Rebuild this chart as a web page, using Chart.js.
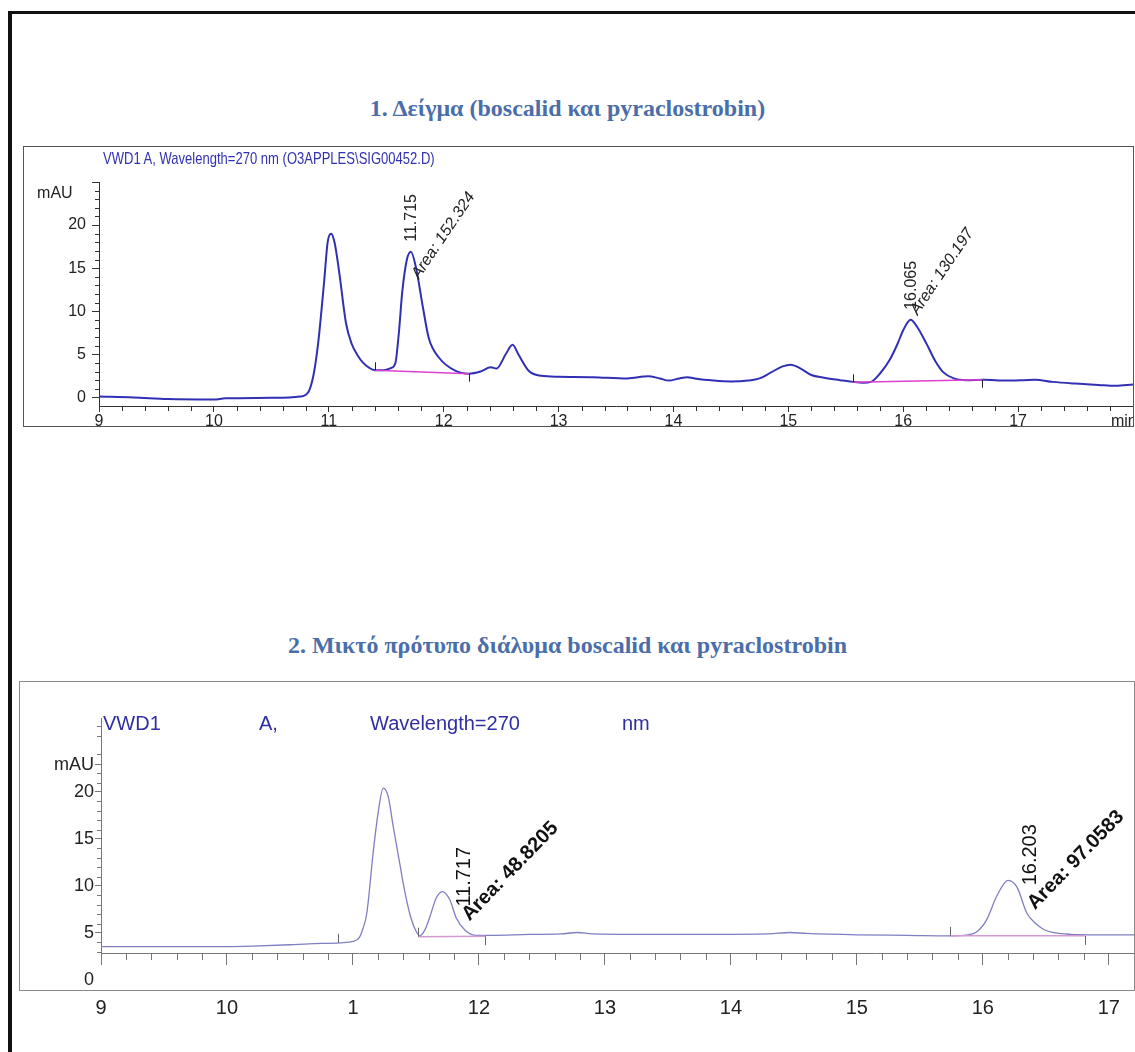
<!DOCTYPE html>
<html lang="el">
<head>
<meta charset="utf-8">
<title>Χρωματογραφήματα boscalid / pyraclostrobin</title>
<script src="https://cdn.jsdelivr.net/npm/chart.js@4.4.1/dist/chart.umd.min.js"></script>
<style>
html, body { margin: 0; padding: 0; background: #fff; }
body { position: relative; width: 1135px; height: 1052px; overflow: hidden; font-family: "Liberation Sans", Arial, sans-serif; }
#frame { position: absolute; left: 8px; top: 11px; width: 1200px; height: 1100px; border-top: 3px solid #111; border-left: 4px solid #111; }
.title { position: absolute; left: 0; width: 1135px; text-align: center; white-space: nowrap; font-family: "Liberation Serif", "Times New Roman", serif; font-weight: bold; font-size: 24px; color: #4b6ea9; line-height: 1; }
.box { position: absolute; box-sizing: border-box; }
#box1 { left: 23px; top: 146px; width: 1111px; height: 281px; border: 1px solid #555; }
#box2 { left: 19px; top: 681px; width: 1116px; height: 310px; border: 1px solid #8a8a8a; }
canvas { position: absolute; }
#c1 { left: 23px; top: 146px; }
#c2 { left: 19px; top: 681px; }
.hdr { position: absolute; white-space: nowrap; line-height: 1; }
#hdr1 { left: 103px; top: 150px; font-size: 17px; color: #3232b0; transform-origin: 0 0; }
.hdr2 { top: 713px; font-size: 20px; color: #2f2fa3; }
</style>
</head>
<body>
<div id="frame"></div>
<div class="title" id="t1" style="top:96px">1. Δείγμα (boscalid και pyraclostrobin)</div>
<div class="title" id="t2" style="top:633px">2. Μικτό πρότυπο διάλυμα boscalid και pyraclostrobin</div>
<div class="box" id="box1"></div>
<div class="box" id="box2"></div>
<canvas id="c1" width="1110" height="281"></canvas>
<canvas id="c2" width="1115" height="340"></canvas>
<div class="hdr" id="hdr1">VWD1 A, Wavelength=270 nm (O3APPLES\SIG00452.D)</div>
<div class="hdr hdr2" style="left:103px">VWD1</div>
<div class="hdr hdr2" style="left:259px">A,</div>
<div class="hdr hdr2" style="left:370px">Wavelength=270</div>
<div class="hdr hdr2" style="left:622px">nm</div>
<script>
// --- chromatogram 1: sample ---
const rt1 = [9.0, 9.3, 9.6, 10.0, 10.1, 10.5, 10.75, 10.8, 10.83, 10.87, 10.91, 10.96, 10.99, 11.02, 11.05, 11.09,
  11.15, 11.2, 11.25, 11.3, 11.35, 11.4, 11.47, 11.54, 11.58, 11.61, 11.64, 11.68, 11.715, 11.76, 11.82, 11.87, 11.96,
  12.1, 12.22, 12.32, 12.41, 12.46, 12.54, 12.6, 12.65, 12.74, 12.85, 13.0, 13.3, 13.6, 13.78, 13.88, 13.96,
  14.05, 14.12, 14.2, 14.35, 14.5, 14.65, 14.75, 14.85, 14.95, 15.02, 15.1, 15.2, 15.3, 15.45, 15.56, 15.65,
  15.72, 15.8, 15.88, 15.95, 16.0, 16.065, 16.12, 16.2, 16.28, 16.35, 16.44, 16.55, 16.7, 16.9, 17.05, 17.15,
  17.3, 17.5, 17.7, 17.85, 18.0];
const mau1 = [0.1, 0.0, -0.2, -0.25, -0.1, -0.05, 0.1, 0.3, 0.8, 2.8, 6.6, 13.5, 18.0, 19.0, 18.0, 14.6,
  8.6, 6.2, 4.9, 4.0, 3.45, 3.15, 3.15, 3.4, 4.0, 7.5, 12.3, 16.0, 16.9, 15.0, 10.4, 6.9, 4.6,
  3.1, 2.75, 3.0, 3.5, 3.35, 5.0, 6.1, 5.0, 3.1, 2.5, 2.4, 2.35, 2.2, 2.45, 2.2, 1.95,
  2.2, 2.35, 2.15, 1.95, 1.85, 1.95, 2.2, 2.9, 3.6, 3.8, 3.4, 2.6, 2.3, 2.0, 1.8, 1.7,
  1.8, 2.8, 4.3, 6.2, 7.8, 9.0, 8.2, 6.3, 4.2, 2.9, 2.2, 2.0, 2.05, 1.95, 2.0, 2.05,
  1.8, 1.6, 1.45, 1.35, 1.5];
const baseX1 = [[11.40, 12.22], [15.56, 16.69]];
const baseY1 = [[3.15, 2.75], [1.75, 2.05]];
const peakRt1 = [11.715, 16.065];
const peakArea1 = ['152.324', '130.197'];
const xTicks1 = [9, 10, 11, 12, 13, 14, 15, 16, 17, 17.92];
const xLabels1 = ['9', '10', '11', '12', '13', '14', '15', '16', '17', 'min'];
const yTicks1 = [0, 5, 10, 15, 20, 23.7, 25];
const yLabels1 = ['0', '5', '10', '15', '20', 'mAU   ', ''];

// --- chromatogram 2: mixed standard ---
const rt2 = [9.0, 9.5, 10.0, 10.2, 10.5, 10.65, 10.9, 11.0, 11.05, 11.08, 11.11, 11.16, 11.2, 11.24, 11.28, 11.32,
  11.37, 11.41, 11.45, 11.49, 11.53, 11.57, 11.61, 11.66, 11.71, 11.77, 11.82, 11.89, 11.98, 12.1, 12.4, 12.65,
  12.78, 12.9, 13.3, 13.8, 14.3, 14.47, 14.6, 15.0, 15.4, 15.74, 15.88, 15.95, 16.03, 16.11, 16.2, 16.27,
  16.35, 16.42, 16.48, 16.58, 16.7, 16.9, 17.2];
const mau2 = [3.55, 3.55, 3.55, 3.6, 3.75, 3.85, 3.95, 4.1, 4.5, 5.5, 7.1, 13.5, 17.8, 20.4, 19.5, 16.3,
  12.5, 9.5, 7.1, 5.5, 4.7, 5.3, 6.7, 8.7, 9.4, 8.5, 6.6, 5.3, 4.75, 4.75, 4.85, 4.9,
  5.05, 4.9, 4.85, 4.85, 4.9, 5.05, 4.95, 4.8, 4.75, 4.7, 4.8, 5.1, 6.4, 8.9, 10.6, 9.9,
  7.1, 6.0, 5.4, 5.0, 4.85, 4.8, 4.8];
const baseX2 = [[11.52, 12.05], [15.74, 16.81]];
const baseY2 = [[4.6, 4.65], [4.7, 4.7]];
const eventX2 = [10.88];
const eventY2 = [3.95];
const peakRt2 = [11.717, 16.203];
const peakArea2 = ['48.8205', '97.0583'];
const xTicks2 = [9, 10, 11, 12, 13, 14, 15, 16, 17];
const xLabels2 = ['9', '10', '1', '12', '13', '14', '15', '16', '17'];
const yTicks2 = [0, 5, 10, 15, 20, 22.9];
const yLabels2 = ['0', '5', '10', '15', '20', 'mAU'];

const sans = '"Liberation Sans", Arial, sans-serif';
const narrow = '"Liberation Sans Narrow", "Liberation Sans", Arial, sans-serif';

function points(xs, ys) {
  return xs.map((x, i) => ({ x: x, y: ys[i] }));
}

function apex(xs, ys, rt) {
  let best = -1;
  xs.forEach((x, i) => {
    if (Math.abs(x - rt) < 0.08 && (best < 0 || ys[i] > ys[best])) best = i;
  });
  return [xs[best], ys[best]];
}

// minor ticks, integration marks and peak labels, all placed through the scales
function chromPlugin(cfg) {
  return {
    id: 'chrom',
    afterDraw(chart) {
      const ctx = chart.ctx;
      const xs = chart.scales.x, ys = chart.scales.y;
      ctx.save();
      ctx.strokeStyle = cfg.axisColor;
      ctx.lineWidth = 1;
      ctx.beginPath();
      const n = Math.round((xs.max - xs.min) / 0.2);
      for (let i = 1; i <= n; i++) {
        if (i % 5 === 0) continue;
        const px = Math.round(xs.getPixelForValue(xs.min + i * 0.2)) + 0.5;
        ctx.moveTo(px, xs.top);
        ctx.lineTo(px, xs.top + cfg.xMinor);
      }
      for (let v = Math.ceil(ys.min); v <= Math.floor(ys.max); v++) {
        if (v % 5 === 0 || v <= ys.min) continue;
        const py = Math.round(ys.getPixelForValue(v)) + 0.5;
        ctx.moveTo(ys.right, py);
        ctx.lineTo(ys.right - cfg.yMinor, py);
      }
      ctx.stroke();

      ctx.strokeStyle = cfg.markColor;
      ctx.beginPath();
      cfg.marks.forEach(m => {
        const px = Math.round(xs.getPixelForValue(m[0])) + 0.5;
        const py = ys.getPixelForValue(m[1]);
        ctx.moveTo(px, py);
        ctx.lineTo(px, py - m[2] * cfg.markLen);
      });
      ctx.stroke();

      ctx.fillStyle = cfg.textColor;
      cfg.peaks.forEach(p => {
        const px = xs.getPixelForValue(p.x), py = ys.getPixelForValue(p.y);
        ctx.save();
        ctx.translate(px + p.rtDx, py - p.rtGap);
        ctx.rotate(-Math.PI / 2);
        ctx.font = cfg.rtFont;
        ctx.textAlign = 'left';
        ctx.textBaseline = 'middle';
        ctx.fillText(p.rt, 0, 0);
        ctx.restore();
        ctx.save();
        ctx.translate(px + p.aDx, py + p.aDy);
        ctx.rotate(-cfg.areaAngle * Math.PI / 180);
        ctx.font = cfg.areaFont;
        ctx.textAlign = 'left';
        ctx.textBaseline = 'alphabetic';
        ctx.fillText('Area: ' + p.area, 0, 0);
        ctx.restore();
      });
      ctx.restore();
    }
  };
}

function fixedTicks(values) {
  return scale => { scale.ticks = values.map(v => ({ value: v })); };
}

// chart 1
const peaks1 = peakRt1.map((rt, i) => {
  const a = apex(rt1, mau1, rt);
  return { x: a[0], y: a[1], rt: rt.toFixed(3), area: peakArea1[i],
    rtDx: 1, rtGap: 10, aDx: [8, 7][i], aDy: [28, -4][i] };
});
const marks1 = [];
baseX1.forEach((seg, i) => {
  marks1.push([seg[0], baseY1[i][0], 1]);
  marks1.push([seg[1], baseY1[i][1], -1]);
});

new Chart(document.getElementById('c1'), {
  type: 'line',
  data: {
    datasets: [
      ...baseX1.map((seg, i) => ({
        data: points(seg, baseY1[i]),
        borderColor: '#e040d0', borderWidth: 1.5, pointRadius: 0
      })),
      {
        data: points(rt1, mau1),
        borderColor: '#3030b4', borderWidth: 2, pointRadius: 0,
        cubicInterpolationMode: 'monotone', borderJoinStyle: 'round'
      }
    ]
  },
  options: {
    responsive: false,
    animation: false,
    layout: { padding: { top: 36, left: 0, right: 0, bottom: 0 } },
    plugins: { legend: { display: false }, tooltip: { enabled: false } },
    scales: {
      x: {
        type: 'linear', min: 9, max: 18,
        afterBuildTicks: fixedTicks(xTicks1),
        afterFit: s => { s.height = 21; s.paddingLeft = 0; s.paddingRight = 0; },
        ticks: {
          autoSkip: false, maxRotation: 0, padding: 0, color: '#222',
          font: { family: narrow, size: 16 },
          callback: (v, i) => xLabels1[i]
        },
        grid: {
          drawOnChartArea: false, tickLength: 6,
          tickColor: c => (c.tick && c.tick.value > 17.5) ? 'rgba(0,0,0,0)' : '#333'
        },
        border: { color: '#333', width: 1 }
      },
      y: {
        type: 'linear', min: -1, max: 25,
        afterBuildTicks: fixedTicks(yTicks1),
        afterFit: s => { s.width = 76; s.paddingTop = 0; s.paddingBottom = 0; },
        ticks: {
          autoSkip: false, padding: 6, color: '#222',
          font: { family: narrow, size: 16 },
          callback: (v, i) => yLabels1[i]
        },
        grid: {
          drawOnChartArea: false, tickLength: 7,
          tickColor: c => (c.tick && c.tick.value === 23.7) ? 'rgba(0,0,0,0)' : '#333'
        },
        border: { color: '#333', width: 1 }
      }
    }
  },
  plugins: [chromPlugin({
    axisColor: '#333', xMinor: 5, yMinor: 4,
    markColor: '#222', markLen: 8, marks: marks1,
    textColor: '#222', rtFont: '16px ' + sans, areaFont: 'italic 16px ' + sans,
    areaAngle: 56, peaks: peaks1
  })]
});

// chart 2
const peaks2 = peakRt2.map((rt, i) => {
  const a = apex(rt2, mau2, rt);
  return { x: a[0], y: a[1], rt: rt.toFixed(3), area: peakArea2[i],
    rtDx: 22, rtGap: [-15, -5][i], aDx: 27, aDy: 30 };
});
const marks2 = eventX2.map((x, i) => [x, eventY2[i], 1]);
baseX2.forEach((seg, i) => {
  marks2.push([seg[0], baseY2[i][0], 1]);
  marks2.push([seg[1], baseY2[i][1], -1]);
});

new Chart(document.getElementById('c2'), {
  type: 'line',
  data: {
    datasets: [
      ...baseX2.map((seg, i) => ({
        data: points(seg, baseY2[i]),
        borderColor: '#d49ad4', borderWidth: 1.5, pointRadius: 0
      })),
      {
        data: points(rt2, mau2),
        borderColor: '#7f7fc2', borderWidth: 1.3, pointRadius: 0,
        cubicInterpolationMode: 'monotone'
      }
    ]
  },
  options: {
    responsive: false,
    animation: false,
    layout: { padding: { top: 37, left: 0, right: 0, bottom: 0 } },
    plugins: { legend: { display: false }, tooltip: { enabled: false } },
    scales: {
      x: {
        type: 'linear', min: 9, max: 17.2,
        afterBuildTicks: fixedTicks(xTicks2),
        afterFit: s => { s.height = 68; s.paddingLeft = 0; s.paddingRight = 0; },
        ticks: {
          autoSkip: false, maxRotation: 0, padding: 31, color: '#222',
          font: { family: sans, size: 20 },
          callback: (v, i) => xLabels2[i]
        },
        grid: { drawOnChartArea: false, tickLength: 12, tickColor: '#777' },
        border: { color: '#777', width: 1 }
      },
      y: {
        type: 'linear', min: 2.87, max: 27.87,
        afterBuildTicks: fixedTicks(yTicks2),
        afterFit: s => { s.width = 82; s.paddingTop = 0; s.paddingBottom = 0; },
        ticks: {
          autoSkip: false, padding: 1, color: '#222',
          font: { family: sans, size: 18 },
          callback: (v, i) => yLabels2[i]
        },
        grid: {
          drawOnChartArea: false, tickLength: 6,
          tickColor: c => (c.tick && c.tick.value === 0) ? 'rgba(0,0,0,0)' : '#777'
        },
        border: { color: '#777', width: 1 }
      }
    }
  },
  plugins: [chromPlugin({
    axisColor: '#777', xMinor: 7, yMinor: 4,
    markColor: '#666', markLen: 9, marks: marks2,
    textColor: '#111', rtFont: '20px ' + sans, areaFont: 'bold 20px ' + sans,
    areaAngle: 46, peaks: peaks2
  })]
});

// condensed instrument header of the first trace
const hdr1 = document.getElementById('hdr1');
hdr1.style.transform = 'scaleX(' + (332 / hdr1.offsetWidth) + ')';
</script>
</body>
</html>
